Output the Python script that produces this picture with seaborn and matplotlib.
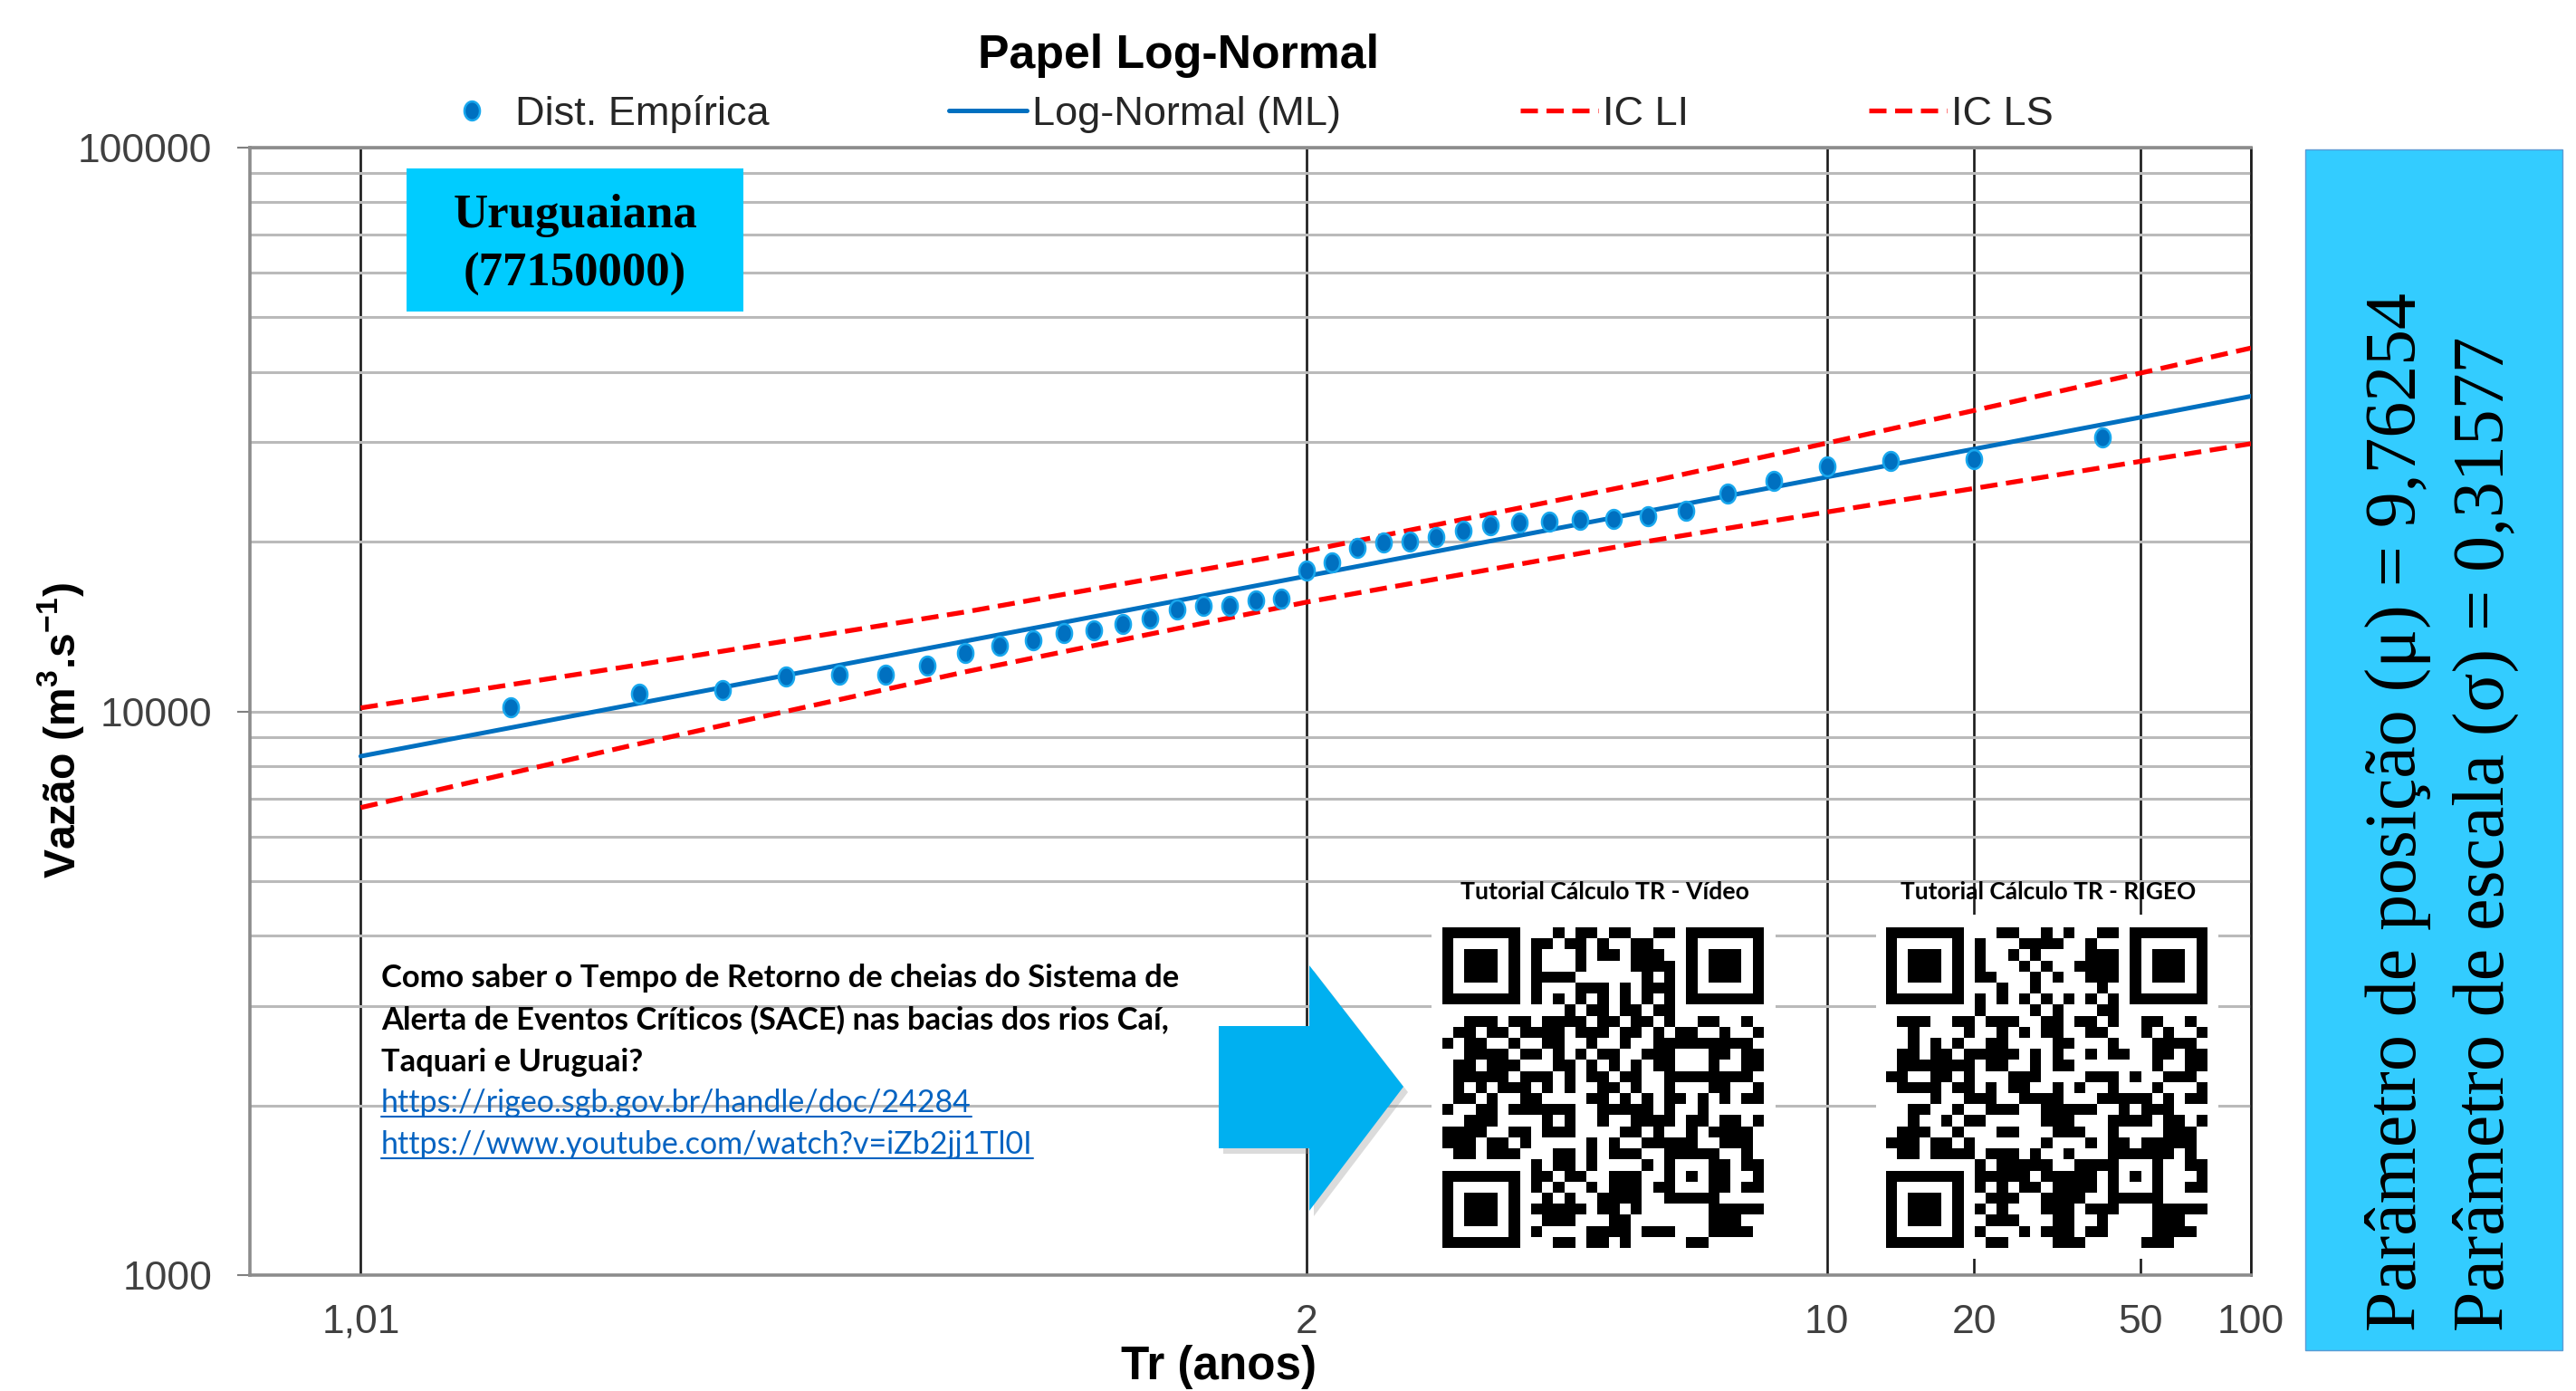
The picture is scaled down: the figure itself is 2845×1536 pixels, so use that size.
import numpy as np
import pandas as pd
import matplotlib
matplotlib.use('Agg')
import matplotlib.pyplot as plt
import seaborn as sns
from matplotlib.lines import Line2D
from matplotlib.patches import Rectangle, Polygon
from matplotlib.path import Path
from matplotlib.ticker import FixedLocator, NullLocator, FixedFormatter, NullFormatter
from statistics import NormalDist

# ---------------- data ----------------
chart_title = 'Papel Log-Normal'
station_name = 'Uruguaiana'
station_code = '(77150000)'
param_mu_text = 'Parâmetro de posição (μ) = 9,76254'
param_sigma_text = 'Parâmetro de escala (σ) = 0,31577'

tr_empirical = [1.0256, 1.0526, 1.0811, 1.1111, 1.1429, 1.1765, 1.2121, 1.25, 1.2903,
                1.3333, 1.3793, 1.4286, 1.4815, 1.5385, 1.6, 1.6667, 1.7391, 1.8182,
                1.9048, 2.0, 2.1053, 2.2222, 2.3529, 2.5, 2.6667, 2.8571, 3.0769,
                3.3333, 3.6364, 4.0, 4.4444, 5.0, 5.7143, 6.6667, 8.0, 10.0, 13.3333,
                20.0, 40.0]
q_empirical = [10150, 10760, 10920, 11520, 11620, 11620, 12060, 12700, 13090,
               13360, 13770, 13940, 14280, 14600, 15180, 15380, 15380, 15760,
               15860, 17780, 18380, 19500, 19920, 19990, 20370, 20930, 21380,
               21650, 21680, 21860, 21980, 22200, 22700, 24320, 25640, 27200, 27790,
               27990, 30650]

tr_curve = [1.01, 1.05, 1.25, 2, 5, 10, 20, 50, 100]
q_lognormal = [8325, 10258, 13317, 17378, 22666, 26040, 29204, 33226, 36222]
q_ic_li = [6750, 8683, 11748, 15624, 20033, 22570, 24860, 27760, 29840]
q_ic_ls = [10141, 12023, 15004, 19250, 25527, 29906, 34180, 39811, 44106]

x_ticks = [1.01, 2, 10, 20, 50, 100]
x_tick_labels = ['1,01', '2', '10', '20', '50', '100']
y_ticks = [1000, 10000, 100000]
y_tick_labels = ['1000', '10000', '100000']
legend_labels = ['Dist. Empírica', 'Log-Normal (ML)', 'IC LI', 'IC LS']

info_lines = ['Como saber o Tempo de Retorno de cheias do Sistema de',
              'Alerta de Eventos Críticos (SACE) nas bacias dos rios Caí,',
              'Taquari e Uruguai?']
link_lines = ['https://rigeo.sgb.gov.br/handle/doc/24284',
              'https://www.youtube.com/watch?v=iZb2jj1Tl0I']
qr_titles = ['Tutorial Cálculo TR - Vídeo', 'Tutorial Cálculo TR - RIGEO']

# ---------------- style ----------------
sns.set_theme(style='white')
plt.rcParams['font.family'] = ['Liberation Sans', 'DejaVu Sans']
plt.rcParams['mathtext.fontset'] = 'custom'
plt.rcParams['mathtext.rm'] = 'Liberation Sans'
plt.rcParams['mathtext.bf'] = 'Liberation Sans:bold'

W, H = 2845, 1536
fig = plt.figure(figsize=(W / 100, H / 100), dpi=100)
fig.patch.set_facecolor('white')


def fx(px):
    return px / W


def fy(py):
    return 1 - py / H


ax = fig.add_axes([fx(276), fy(1408), (2486 - 276) / W, (1408 - 163) / H])

# probability (normal quantile) scale for return period
_nd = NormalDist()
_ppf = np.vectorize(lambda p: _nd.inv_cdf(p) if 0 < p < 1 else np.nan, otypes=[float])
_cdf = np.vectorize(_nd.cdf, otypes=[float])


def tr_to_z(tr):
    tr = np.asarray(tr, dtype=float)
    with np.errstate(divide='ignore', invalid='ignore'):
        p = 1.0 - 1.0 / tr
    return _ppf(p)


def z_to_tr(z):
    z = np.asarray(z, dtype=float)
    with np.errstate(divide='ignore', invalid='ignore'):
        return 1.0 / (1.0 - _cdf(z))


ax.set_yscale('log')
ax.set_xscale('function', functions=(tr_to_z, z_to_tr))

df_emp = pd.DataFrame({'Tr': tr_empirical, 'Q': q_empirical})
df_fit = pd.DataFrame({'Tr': tr_curve, 'ML': q_lognormal, 'LI': q_ic_li, 'LS': q_ic_ls})

blue = '#0070C0'
red = '#FF0000'
dash = (0, (3.6, 1.8))

sns.lineplot(data=df_fit, x='Tr', y='LI', ax=ax, color=red, lw=3.8, sort=False,
             estimator=None, zorder=3)
ax.lines[-1].set_linestyle(dash)
sns.lineplot(data=df_fit, x='Tr', y='LS', ax=ax, color=red, lw=3.8, sort=False,
             estimator=None, zorder=3)
ax.lines[-1].set_linestyle(dash)
sns.lineplot(data=df_fit, x='Tr', y='ML', ax=ax, color=blue, lw=3.6, sort=False,
             estimator=None, zorder=3.5)

th = np.linspace(0, 2 * np.pi, 60)
ell = Path(np.c_[0.82 * np.cos(th), np.sin(th)], closed=True)
sns.scatterplot(data=df_emp, x='Tr', y='Q', ax=ax, marker=ell, s=225,
                color=blue, edgecolor='#19A8EE', linewidth=1.8, zorder=4, legend=False)

ax.set_xlim(1.00464, 100)
ax.set_ylim(1000, 100000)
ax.xaxis.set_major_locator(FixedLocator(x_ticks))
ax.xaxis.set_major_formatter(FixedFormatter(x_tick_labels))
ax.xaxis.set_minor_locator(NullLocator())
ax.yaxis.set_major_locator(FixedLocator(y_ticks))
ax.yaxis.set_major_formatter(FixedFormatter(y_tick_labels))
ax.yaxis.set_minor_locator(FixedLocator([m * d for d in (1000, 10000) for m in range(2, 10)]))
ax.yaxis.set_minor_formatter(NullFormatter())
ax.set_xlabel('')
ax.set_ylabel('')

ax.set_axisbelow(True)
ax.grid(axis='y', which='both', color='#BABABA', lw=2.2)
ax.grid(axis='x', which='major', color='#1A1A1A', lw=1.9)
ax.tick_params(axis='y', which='major', length=10, width=1.5, color='#808080', pad=20,
               labelsize=32, labelcolor='#404040', left=True)
ax.tick_params(axis='y', which='minor', length=0)
ax.tick_params(axis='x', which='major', length=0, pad=23, labelsize=32, labelcolor='#404040')
for side in ('left', 'bottom', 'top'):
    ax.spines[side].set_color('#8C8C8C')
    ax.spines[side].set_linewidth(2.6)
ax.spines['right'].set_color('#1A1A1A')
ax.spines['right'].set_linewidth(1.9)

# legend
handles = [
    Line2D([], [], ls='none', marker=ell, ms=15, mfc=blue, mec='#19A8EE', mew=1.8),
    Line2D([], [], color=blue, lw=3.6),
    Line2D([], [], color=red, lw=3.8, ls=dash),
    Line2D([], [], color=red, lw=3.8, ls=dash),
]
fig.legend(handles, legend_labels, loc='center', bbox_to_anchor=(fx(1373), fy(126)),
           ncol=4, frameon=False, fontsize=32.5, handlelength=1.9, handletextpad=0.12,
           columnspacing=4.4, borderpad=0, labelcolor='#262626')

renderer = fig.canvas.get_renderer()


def fit(t, target, dim='w'):
    for _ in range(2):
        bb = t.get_window_extent(renderer)
        cur = bb.width if dim == 'w' else bb.height
        t.set_fontsize(t.get_fontsize() * target / cur)


# titles / axis labels
t = fig.text(fx(1301), fy(61), chart_title, ha='center', va='center', fontsize=36,
             fontweight='bold', color='black')
fit(t, 443)
t = fig.text(fx(1346), fy(1509), 'Tr (anos)', ha='center', va='center', fontsize=36,
             fontweight='bold', color='black')
fit(t, 216)
t = fig.text(fx(67), fy(807), r'Vazão (m$^{\mathbf{3}}$.s$^{\mathbf{-1}}$)', ha='center',
             va='center', rotation=90, fontsize=34, fontweight='bold', color='black')
fit(t, 327, 'h')

# station box
fig.add_artist(Rectangle((fx(449), fy(344)), (821 - 449) / W, (344 - 186) / H,
                         transform=fig.transFigure, facecolor='#00CCFF', edgecolor='none',
                         zorder=5))
t1 = fig.text(fx(635), fy(238), station_name, ha='center', va='center', fontsize=38,
              fontweight='bold', family='Liberation Serif', color='black', zorder=6)
fit(t1, 270)
fig.text(fx(635), fy(303), station_code, ha='center', va='center',
         fontsize=t1.get_fontsize(), fontweight='bold', family='Liberation Serif',
         color='black', zorder=6)

# right parameter panel
fig.add_artist(Rectangle((fx(2546), fy(1491)), (2830 - 2546) / W, (1491 - 165) / H,
                         transform=fig.transFigure, facecolor='#33CCFF',
                         edgecolor='#5B9BD5', lw=1.0, zorder=5))
tp1 = fig.text(fx(2648), fy(1470), param_mu_text, rotation=90, ha='center', va='bottom',
               fontsize=58, family='Liberation Serif', color='black', zorder=6)
fit(tp1, 1147, 'h')
tp2 = fig.text(fx(2745), fy(1470), param_sigma_text, rotation=90, ha='center', va='bottom',
               fontsize=tp1.get_fontsize(), family='Liberation Serif', color='black', zorder=6)

# info text block
info_base = [1090, 1137, 1183]
tb = []
for line, yb in zip(info_lines, info_base):
    tb.append(fig.text(fx(421), fy(yb), line, ha='left', va='baseline', fontsize=21,
                       fontweight='bold', family=['Lato', 'DejaVu Sans'], color='black',
                       zorder=6))
fit(tb[0], 881)
for t in tb[1:]:
    t.set_fontsize(tb[0].get_fontsize())

link_base = [1228, 1274]
tl = []
for line, yb in zip(link_lines, link_base):
    tl.append(fig.text(fx(421), fy(yb), line, ha='left', va='baseline', fontsize=21,
                       family=['Lato', 'DejaVu Sans'], color='#0563C1', zorder=6))
fit(tl[0], 653)
tl[1].set_fontsize(tl[0].get_fontsize())
for t, yb in zip(tl, link_base):
    bb = t.get_window_extent(renderer)
    fig.add_artist(Line2D([bb.x0 / W, bb.x1 / W], [fy(yb + 5), fy(yb + 5)],
                          transform=fig.transFigure, color='#0563C1', lw=1.5, zorder=6))

# arrow
arrow_pts = [(1346, 1133), (1446, 1133), (1446, 1066), (1550, 1200), (1446, 1337),
             (1446, 1268), (1346, 1268)]
fig.add_artist(Polygon([(fx(x + 5), fy(y + 6)) for x, y in arrow_pts], closed=True,
                       transform=fig.transFigure, facecolor='#9A9A9A', alpha=0.35,
                       edgecolor='none', zorder=5))
fig.add_artist(Polygon([(fx(x), fy(y)) for x, y in arrow_pts], closed=True,
                       transform=fig.transFigure, facecolor='#00B0F0', edgecolor='none',
                       zorder=5.5))


# QR-like codes
def qr_like(text, n=29):
    M = np.zeros((n, n), dtype=int)
    R = np.zeros((n, n), dtype=bool)

    def finder(r0, c0):
        for i in range(-1, 8):
            for j in range(-1, 8):
                r, c = r0 + i, c0 + j
                if 0 <= r < n and 0 <= c < n:
                    R[r, c] = True
                    if 0 <= i <= 6 and 0 <= j <= 6:
                        ring = i in (0, 6) or j in (0, 6)
                        core = 2 <= i <= 4 and 2 <= j <= 4
                        M[r, c] = int(ring or core)

    finder(0, 0)
    finder(0, n - 7)
    finder(n - 7, 0)
    for k in range(8, n - 8):
        M[6, k] = M[k, 6] = int(k % 2 == 0)
        R[6, k] = R[k, 6] = True
    a = n - 7
    for i in range(-2, 3):
        for j in range(-2, 3):
            M[a + i, a + j] = int(max(abs(i), abs(j)) != 1)
            R[a + i, a + j] = True
    bits = ''.join(f'{b:08b}' for b in text.encode('utf-8'))
    k = 0
    for c in range(n - 1, -1, -1):
        for r in range(n):
            if not R[r, c]:
                b = int(bits[k % len(bits)])
                k += 1
                mask = int((r // 2 + c // 3) % 2 == 0)
                M[r, c] = b ^ mask
    return M


qr_boxes = [(1593, 1948), (2083, 2438)]
qr_bg = [(1581, 1961), (2072, 2450)]
qr_title_x = [1772, 2262]
qr_title_w = [319, 326]
qr_urls = [link_lines[1], link_lines[0]]
for (x0, x1), (b0, b1), tx, tw, ttl, url in zip(qr_boxes, qr_bg, qr_title_x, qr_title_w,
                                                 qr_titles, qr_urls):
    fig.add_artist(Rectangle((fx(b0), fy(1390)), (b1 - b0) / W, (1390 - 1010) / H,
                             transform=fig.transFigure, facecolor='white',
                             edgecolor='none', zorder=5))
    qax = fig.add_axes([fx(x0), fy(1378), (x1 - x0) / W, (1378 - 1024) / H], zorder=6)
    qax.imshow(qr_like(url), cmap='gray_r', vmin=0, vmax=1, interpolation='nearest',
               aspect='auto')
    qax.set_axis_off()
    t = fig.text(fx(tx), fy(985), ttl, ha='center', va='center', fontsize=16,
                 fontweight='bold', family=['Lato', 'DejaVu Sans'], color='black', zorder=7)
    fit(t, tw)

fig.savefig('out.png', dpi=100)
